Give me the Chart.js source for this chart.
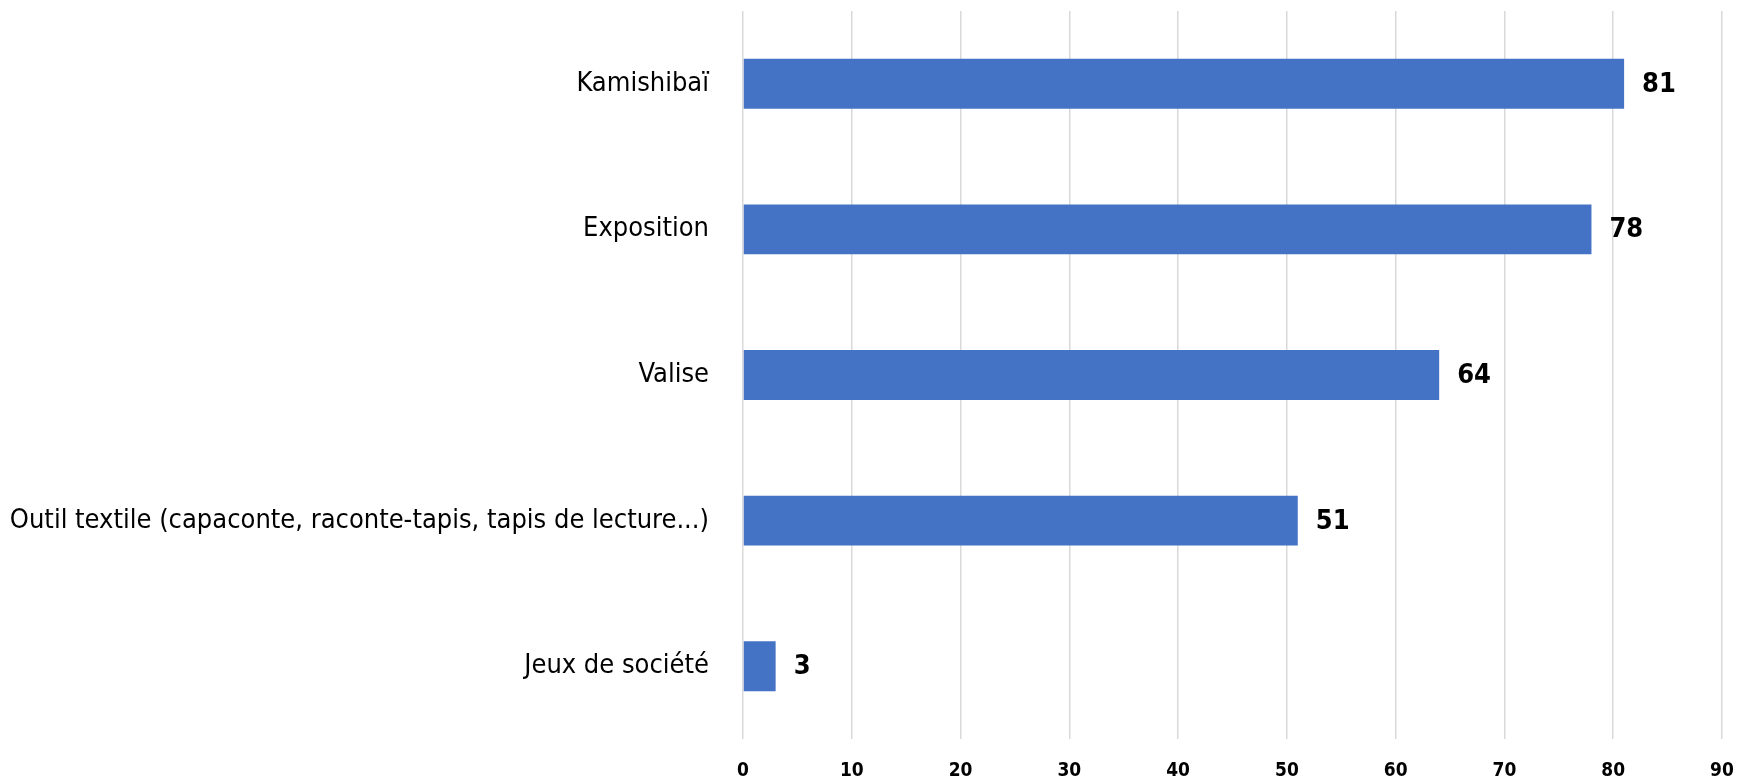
<!DOCTYPE html>
<html>
<head>
<meta charset="utf-8">
<script src="https://cdn.jsdelivr.net/npm/chart.js@4.4.1/dist/chart.umd.min.js"></script>
<style>
  html, body { margin: 0; padding: 0; background: #fff; }
</style>
</head>
<body>
<canvas id="chart" width="1738" height="784"></canvas>
<script>
// values
const categories = [
  "Kamishibaï",
  "Exposition",
  "Valise",
  "Outil textile (capaconte, raconte-tapis, tapis de lecture...)",
  "Jeux de société"
];
const counts = [81, 78, 64, 51, 3];
const xTicks = [0, 10, 20, 30, 40, 50, 60, 70, 80, 90];

const FONT = "'DejaVu Sans Condensed', 'Liberation Sans Narrow', sans-serif";

// draws the value next to each bar
const valueLabels = {
  id: "valueLabels",
  afterDatasetsDraw(chart) {
    const ctx = chart.ctx;
    const meta = chart.getDatasetMeta(0);
    ctx.save();
    ctx.font = "bold 27px " + FONT;
    ctx.fillStyle = "#000";
    ctx.textAlign = "left";
    ctx.textBaseline = "middle";
    meta.data.forEach((bar, i) => {
      ctx.fillText(String(counts[i]), bar.x + 18, bar.y + 1);
    });
    ctx.restore();
  }
};

const ctx = document.getElementById("chart").getContext("2d");
new Chart(ctx, {
  type: "bar",
  data: {
    labels: categories,
    datasets: [{
      label: "Nombre",
      data: counts,
      backgroundColor: "#4472C4",
      borderWidth: 0,
      barPercentage: 0.7,
      categoryPercentage: 0.49
    }]
  },
  options: {
    indexAxis: "y",
    responsive: false,
    animation: false,
    layout: { padding: { top: 11, right: 16, left: 0, bottom: 0 } },
    plugins: {
      legend: { display: false },
      tooltip: { enabled: false }
    },
    scales: {
      x: {
        min: 0,
        max: 90,
        afterBuildTicks(axis) {
          axis.ticks = xTicks.map(v => ({ value: v }));
        },
        afterFit(axis) {
          axis.height = 45;
          axis.paddingLeft = 0;
          axis.paddingRight = 0;
        },
        grid: { color: "#d9d9d9", lineWidth: 1.5, drawTicks: false },
        border: { display: false },
        ticks: {
          color: "#000",
          padding: 21,
          font: { family: FONT, size: 19, weight: "bold" }
        }
      },
      y: {
        afterFit(axis) {
          axis.width = 743;
          axis.paddingTop = 0;
          axis.paddingBottom = 0;
        },
        grid: { display: false },
        border: { display: false },
        ticks: {
          color: "#000",
          padding: 26,
          font: { family: FONT, size: 27 }
        }
      }
    }
  },
  plugins: [valueLabels]
});
</script>
</body>
</html>
